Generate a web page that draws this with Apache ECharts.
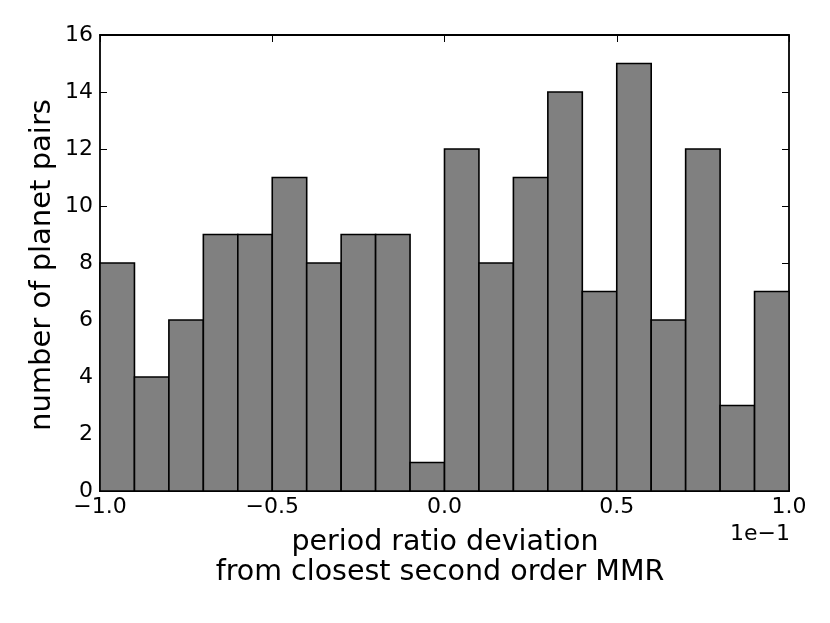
<!DOCTYPE html>
<html>
<head>
<meta charset="utf-8">
<script src="https://cdn.jsdelivr.net/npm/echarts@6/dist/echarts.min.js"></script>
<style>
html,body{margin:0;padding:0;background:#fff;}
#chart{width:830px;height:623px;}
</style>
</head>
<body>
<div id="chart"></div>
<script>
// Histogram bin edges (in units of 1e-1) and counts
const binLeft  = [-1.0,-0.9,-0.8,-0.7,-0.6,-0.5,-0.4,-0.3,-0.2,-0.1,0.0,0.1,0.2,0.3,0.4,0.5,0.6,0.7,0.8,0.9];
const binRight = [-0.9,-0.8,-0.7,-0.6,-0.5,-0.4,-0.3,-0.2,-0.1,0.0,0.1,0.2,0.3,0.4,0.5,0.6,0.7,0.8,0.9,1.0];
const counts   = [8,4,6,9,9,11,8,9,9,1,12,8,11,14,7,15,6,12,3,7];
const xTickLabels = {'-1':'\u22121.0','-0.5':'\u22120.5','0':'0.0','0.5':'0.5','1':'1.0'};

const FONT = 'DejaVu Sans';
const chart = echarts.init(document.getElementById('chart'), null, {renderer:'canvas'});
const data = counts.map((c,i)=>[binLeft[i], binRight[i], c]);

const axisLine = {show:true, onZero:false, lineStyle:{color:'#000', width:1.8}};
const tick = {show:true, inside:true, length:7, lineStyle:{color:'#000', width:1}};

chart.setOption({
  backgroundColor:'#fff',
  animation:false,
  grid:{left:100, right:41, top:35, bottom:132},
  xAxis:[{
    type:'value', min:-1, max:1, interval:0.5, position:'bottom',
    axisLine:axisLine, axisTick:tick, splitLine:{show:false},
    axisLabel:{margin:5, color:'#000', fontFamily:FONT, fontSize:22,
      formatter:v=>xTickLabels[String(Math.round(v*10)/10)] ?? v.toFixed(1)}
  },{
    type:'value', min:-1, max:1, interval:0.5, position:'top',
    axisLine:axisLine, axisTick:tick, splitLine:{show:false}, axisLabel:{show:false}
  }],
  yAxis:[{
    type:'value', min:0, max:16, interval:2, position:'left',
    axisLine:axisLine, axisTick:tick, splitLine:{show:false},
    axisLabel:{margin:7, color:'#000', fontFamily:FONT, fontSize:22}
  },{
    type:'value', min:0, max:16, interval:2, position:'right',
    axisLine:axisLine, axisTick:tick, splitLine:{show:false}, axisLabel:{show:false}
  }],
  series:[{
    type:'custom',
    xAxisIndex:0, yAxisIndex:0,
    data:data,
    encode:{x:[0,1], y:2},
    renderItem:(params, api)=>{
      const p0 = api.coord([api.value(0), api.value(2)]);
      const p1 = api.coord([api.value(1), 0]);
      return {
        type:'rect',
        shape:{x:p0[0], y:p0[1], width:p1[0]-p0[0], height:p1[1]-p0[1]},
        style:{fill:'#808080', stroke:'#000', lineWidth:1.6}
      };
    }
  }],
  graphic:[
    {type:'text', x:790, y:534, style:{text:'1e\u22121', font:'22px "DejaVu Sans"', fill:'#000', align:'right', verticalAlign:'middle'}},
    {type:'text', x:445, y:543, style:{text:'period ratio deviation', font:'28.5px "DejaVu Sans"', fill:'#000', align:'center', verticalAlign:'middle'}},
    {type:'text', x:440, y:573, style:{text:'from closest second order MMR', font:'28.5px "DejaVu Sans"', fill:'#000', align:'center', verticalAlign:'middle'}},
    {type:'text', x:42, y:265, rotation:Math.PI/2, style:{text:'number of planet pairs', font:'29px "DejaVu Sans"', fill:'#000', align:'center', verticalAlign:'middle'}}
  ]
});
</script>
</body>
</html>
